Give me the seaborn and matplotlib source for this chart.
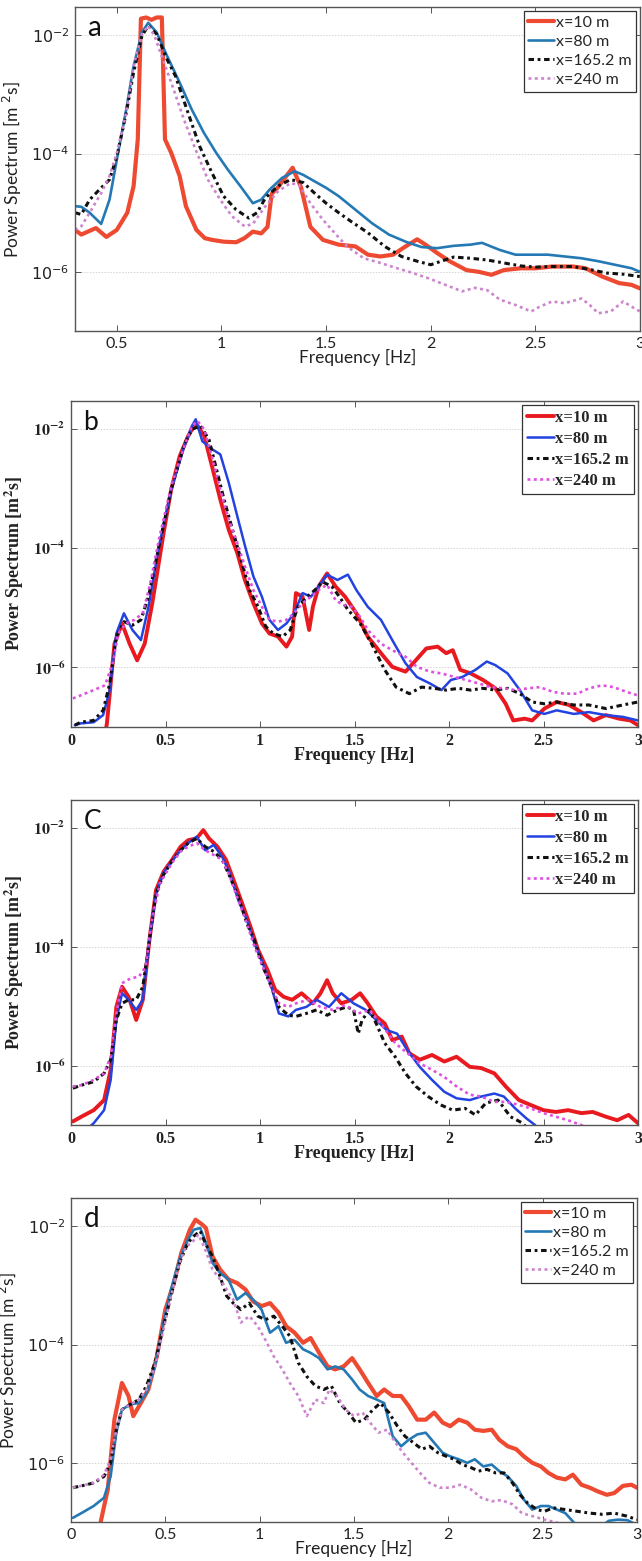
import numpy as np
import pandas as pd
import matplotlib
matplotlib.use("Agg")
import matplotlib.pyplot as plt
from matplotlib.ticker import FixedLocator, NullLocator
from matplotlib.font_manager import FontProperties
import seaborn as sns

STATIONS = ["x=10 m", "x=80 m", "x=165.2 m", "x=240 m"]

# ---------------------------------------------------------------------------
# Spectra: frequency [Hz] and log10 of power spectral density [m^2 s]
# ---------------------------------------------------------------------------
# panel a
a_f_10 = [0.30, 0.33, 0.40, 0.45, 0.50, 0.55, 0.58, 0.60, 0.615, 0.64, 0.665, 0.69, 0.715, 0.73,
          0.76, 0.80, 0.83, 0.88, 0.92, 0.955, 1.01, 1.07, 1.11, 1.15, 1.19, 1.22, 1.24, 1.27,
          1.31, 1.34, 1.38, 1.425, 1.485, 1.56, 1.64, 1.70, 1.76, 1.82, 1.88, 1.935, 1.975,
          2.03, 2.09, 2.17, 2.23, 2.29, 2.35, 2.43, 2.50, 2.58, 2.68, 2.74, 2.82, 2.90, 2.96, 3.00]
a_s_10 = [-5.29, -5.37, -5.26, -5.41, -5.29, -5.00, -4.55, -3.76, -1.72, -1.70, -1.74, -1.70, -1.70,
          -3.76, -3.99, -4.38, -4.89, -5.29, -5.43, -5.46, -5.49, -5.50, -5.43, -5.32, -5.35,
          -5.24, -4.68, -4.57, -4.38, -4.24, -4.57, -5.24, -5.46, -5.54, -5.57, -5.71, -5.74,
          -5.71, -5.57, -5.45, -5.54, -5.68, -5.82, -5.97, -6.00, -6.05, -5.97, -5.94, -5.94,
          -5.91, -5.91, -5.94, -6.08, -6.19, -6.22, -6.28]
a_f_80 = [0.30, 0.33, 0.37, 0.425, 0.465, 0.50, 0.545, 0.58, 0.62, 0.65, 0.69, 0.74, 0.80, 0.857,
          0.916, 0.975, 1.03, 1.09, 1.15, 1.19, 1.23, 1.29, 1.35, 1.39, 1.445, 1.50, 1.56, 1.64,
          1.72, 1.80, 1.88, 1.955, 2.03, 2.11, 2.19, 2.245, 2.33, 2.405, 2.48, 2.56, 2.64, 2.72,
          2.80, 2.88, 2.96, 3.00]
a_s_80 = [-4.89, -4.90, -5.00, -5.19, -4.78, -4.10, -3.25, -2.52, -1.95, -1.79, -1.95, -2.35, -2.80,
          -3.25, -3.65, -3.99, -4.27, -4.55, -4.84, -4.78, -4.61, -4.41, -4.30, -4.36, -4.47,
          -4.58, -4.72, -4.95, -5.18, -5.37, -5.49, -5.58, -5.60, -5.56, -5.54, -5.51, -5.63,
          -5.71, -5.71, -5.71, -5.74, -5.77, -5.82, -5.88, -5.94, -6.00]
a_f_165 = [0.30, 0.33, 0.37, 0.425, 0.465, 0.50, 0.545, 0.58, 0.62, 0.65, 0.69, 0.74, 0.78, 0.84,
           0.896, 0.955, 1.01, 1.07, 1.13, 1.17, 1.21, 1.27, 1.33, 1.39, 1.445, 1.50, 1.56, 1.62,
           1.70, 1.78, 1.86, 1.935, 2.00, 2.05, 2.11, 2.19, 2.27, 2.35, 2.43, 2.50, 2.58, 2.68,
           2.76, 2.84, 2.92, 3.00]
a_s_165 = [-5.00, -5.03, -4.78, -4.58, -4.44, -4.05, -3.31, -2.63, -2.01, -1.84, -1.98, -2.41, -2.69,
           -3.31, -3.88, -4.33, -4.72, -4.95, -5.09, -5.00, -4.75, -4.55, -4.44, -4.49, -4.67,
           -4.84, -5.00, -5.15, -5.34, -5.57, -5.74, -5.82, -5.88, -5.82, -5.75, -5.77, -5.80,
           -5.85, -5.90, -5.92, -5.91, -5.91, -5.96, -6.02, -6.04, -6.08]
a_f_240 = [0.30, 0.33, 0.37, 0.425, 0.465, 0.50, 0.545, 0.58, 0.62, 0.65, 0.68, 0.72, 0.76, 0.82,
           0.876, 0.935, 0.994, 1.05, 1.11, 1.15, 1.21, 1.27, 1.33, 1.37, 1.425, 1.485, 1.54,
           1.60, 1.68, 1.76, 1.84, 1.915, 1.99, 2.07, 2.15, 2.21, 2.27, 2.33, 2.405, 2.48, 2.52,
           2.58, 2.64, 2.72, 2.76, 2.80, 2.86, 2.92, 2.96, 3.00]
a_s_240 = [-5.29, -5.23, -5.00, -4.67, -4.38, -3.99, -3.31, -2.52, -1.98, -1.84, -2.01, -2.41, -2.80,
           -3.42, -3.93, -4.44, -4.78, -5.06, -5.23, -5.19, -4.89, -4.64, -4.50, -4.53, -4.84,
           -5.12, -5.34, -5.57, -5.77, -5.85, -5.94, -6.02, -6.11, -6.22, -6.33, -6.27, -6.31,
           -6.47, -6.56, -6.67, -6.59, -6.50, -6.53, -6.45, -6.56, -6.70, -6.67, -6.50, -6.59, -6.67]

# panel b
b_f_10 = [0.12, 0.17, 0.19, 0.21, 0.23, 0.27, 0.31, 0.35, 0.39, 0.43, 0.49, 0.53, 0.575, 0.62, 0.66,
          0.705, 0.75, 0.79, 0.835, 0.88, 0.92, 0.965, 1.01, 1.05, 1.095, 1.14, 1.17, 1.19, 1.225,
          1.26, 1.28, 1.31, 1.355, 1.40, 1.45, 1.51, 1.57, 1.64, 1.70, 1.77, 1.81, 1.88, 1.94,
          1.985, 2.02, 2.06, 2.115, 2.18, 2.245, 2.30, 2.34, 2.40, 2.44, 2.505, 2.57, 2.635, 2.70,
          2.765, 2.83, 2.90, 2.96, 3.00]
b_s_10 = [-7.60, -7.30, -6.94, -6.27, -5.60, -5.26, -5.60, -5.88, -5.60, -4.92, -3.74, -3.01, -2.45,
          -2.11, -1.89, -2.11, -2.67, -3.18, -3.69, -4.08, -4.53, -4.92, -5.26, -5.43, -5.48,
          -5.65, -5.48, -4.75, -4.81, -5.37, -4.98, -4.64, -4.42, -4.64, -4.81, -5.09, -5.48,
          -5.76, -5.99, -6.07, -5.93, -5.68, -5.65, -5.76, -5.71, -6.04, -6.10, -6.21, -6.35,
          -6.61, -6.89, -6.86, -6.89, -6.69, -6.58, -6.63, -6.75, -6.89, -6.80, -6.86, -6.89, -6.97]
b_f_80 = [0.02, 0.05, 0.12, 0.17, 0.205, 0.24, 0.28, 0.325, 0.37, 0.41, 0.465, 0.53, 0.60, 0.64,
          0.66, 0.695, 0.75, 0.79, 0.835, 0.88, 0.92, 0.965, 1.01, 1.05, 1.095, 1.14, 1.18, 1.225,
          1.27, 1.31, 1.355, 1.41, 1.465, 1.51, 1.57, 1.64, 1.70, 1.77, 1.83, 1.90, 1.96, 2.01,
          2.07, 2.14, 2.20, 2.245, 2.31, 2.375, 2.44, 2.505, 2.57, 2.66, 2.74, 2.83, 2.92, 3.00]
b_s_80 = [-6.97, -6.94, -6.92, -6.80, -6.38, -5.43, -5.09, -5.37, -5.54, -4.98, -3.97, -3.01, -2.28,
          -1.94, -1.83, -2.20, -2.34, -2.42, -2.90, -3.46, -3.95, -4.47, -4.81, -5.20, -5.37,
          -5.26, -5.09, -4.75, -4.81, -4.64, -4.44, -4.53, -4.44, -4.70, -4.98, -5.20, -5.54,
          -5.93, -6.16, -6.27, -6.38, -6.21, -6.16, -6.04, -5.90, -5.96, -6.10, -6.38, -6.72,
          -6.78, -6.72, -6.78, -6.75, -6.80, -6.83, -6.89]
b_f_165 = [0.02, 0.05, 0.12, 0.17, 0.205, 0.24, 0.28, 0.325, 0.37, 0.41, 0.465, 0.53, 0.60, 0.64,
           0.685, 0.73, 0.77, 0.81, 0.855, 0.90, 0.945, 0.99, 1.03, 1.07, 1.12, 1.16, 1.20, 1.25,
           1.29, 1.33, 1.38, 1.42, 1.465, 1.53, 1.59, 1.66, 1.72, 1.79, 1.855, 1.92, 1.985, 2.05,
           2.115, 2.18, 2.245, 2.31, 2.375, 2.44, 2.505, 2.57, 2.66, 2.74, 2.83, 2.92, 3.00]
b_s_165 = [-6.97, -6.92, -6.89, -6.72, -6.27, -5.48, -5.23, -5.29, -5.20, -4.81, -3.97, -3.01, -2.25,
           -2.00, -1.94, -2.17, -2.67, -3.18, -3.69, -4.19, -4.70, -4.98, -5.31, -5.43, -5.48,
           -5.37, -4.98, -4.81, -4.70, -4.56, -4.64, -4.81, -5.03, -5.26, -5.60, -6.04, -6.33,
           -6.44, -6.33, -6.35, -6.38, -6.35, -6.38, -6.35, -6.38, -6.35, -6.44, -6.58, -6.61,
           -6.58, -6.63, -6.63, -6.69, -6.63, -6.58]
b_f_240 = [0.01, 0.05, 0.12, 0.18, 0.22, 0.25, 0.29, 0.335, 0.38, 0.42, 0.465, 0.53, 0.60, 0.64,
           0.67, 0.705, 0.75, 0.79, 0.835, 0.88, 0.92, 0.965, 1.01, 1.05, 1.095, 1.14, 1.18,
           1.225, 1.27, 1.31, 1.355, 1.40, 1.44, 1.485, 1.53, 1.57, 1.64, 1.70, 1.77, 1.83, 1.90,
           1.96, 2.03, 2.09, 2.16, 2.22, 2.29, 2.35, 2.42, 2.48, 2.55, 2.61, 2.68, 2.74, 2.81,
           2.87, 2.94, 3.00]
b_s_240 = [-6.52, -6.47, -6.38, -6.30, -5.93, -5.43, -5.26, -5.20, -5.09, -4.58, -3.85, -2.96, -2.28,
           -1.94, -1.86, -2.00, -2.51, -3.01, -3.52, -3.91, -4.30, -4.70, -4.98, -5.20, -5.23,
           -5.20, -5.09, -4.92, -4.81, -4.70, -4.61, -4.87, -4.95, -4.98, -5.15, -5.37, -5.60,
           -5.71, -5.82, -5.99, -6.07, -6.10, -6.16, -6.21, -6.27, -6.33, -6.35, -6.38, -6.35,
           -6.33, -6.41, -6.44, -6.44, -6.35, -6.30, -6.33, -6.41, -6.47]

# panel c
c_f_10 = [0.01, 0.055, 0.12, 0.175, 0.21, 0.24, 0.27, 0.305, 0.345, 0.38, 0.415, 0.45, 0.49, 0.535,
          0.58, 0.62, 0.665, 0.70, 0.73, 0.775, 0.82, 0.86, 0.905, 0.95, 0.99, 1.04, 1.08, 1.125,
          1.17, 1.22, 1.28, 1.32, 1.355, 1.385, 1.43, 1.485, 1.53, 1.57, 1.615, 1.66, 1.70, 1.75,
          1.79, 1.845, 1.91, 1.975, 2.04, 2.11, 2.17, 2.24, 2.30, 2.37, 2.43, 2.50, 2.565, 2.63,
          2.70, 2.76, 2.83, 2.89, 2.95, 3.00]
c_s_10 = [-6.94, -6.86, -6.75, -6.58, -6.07, -5.01, -4.67, -4.84, -5.23, -4.89, -3.88, -3.04, -2.73,
          -2.53, -2.31, -2.20, -2.17, -2.03, -2.17, -2.31, -2.53, -2.87, -3.26, -3.66, -4.05,
          -4.39, -4.72, -4.84, -4.89, -4.78, -4.95, -4.78, -4.56, -4.78, -4.95, -4.89, -4.78,
          -4.95, -5.17, -5.29, -5.57, -5.51, -5.79, -5.90, -5.82, -5.93, -5.85, -6.02, -6.04,
          -6.13, -6.35, -6.58, -6.66, -6.75, -6.78, -6.75, -6.80, -6.78, -6.86, -6.92, -6.83, -6.97]
c_f_80 = [0.055, 0.12, 0.175, 0.21, 0.24, 0.27, 0.305, 0.345, 0.38, 0.415, 0.45, 0.49, 0.535, 0.58,
          0.62, 0.665, 0.71, 0.755, 0.80, 0.84, 0.885, 0.93, 0.97, 1.015, 1.06, 1.10, 1.15, 1.19,
          1.245, 1.30, 1.365, 1.43, 1.495, 1.56, 1.615, 1.67, 1.725, 1.78, 1.845, 1.91, 1.975,
          2.04, 2.11, 2.17, 2.24, 2.29, 2.35, 2.41, 2.455, 2.52, 2.60]
c_s_80 = [-7.15, -6.97, -6.75, -6.24, -5.23, -4.78, -4.89, -5.06, -4.89, -3.88, -3.10, -2.75, -2.55,
          -2.37, -2.25, -2.14, -2.37, -2.28, -2.48, -2.76, -3.21, -3.54, -3.94, -4.28, -4.67,
          -5.12, -5.17, -5.06, -5.01, -4.89, -5.01, -4.78, -4.95, -5.06, -5.23, -5.40, -5.46,
          -5.74, -6.02, -6.24, -6.44, -6.55, -6.58, -6.52, -6.47, -6.52, -6.72, -6.89, -7.00,
          -7.25, -7.50]
c_f_165 = [0.01, 0.055, 0.12, 0.175, 0.21, 0.24, 0.27, 0.305, 0.345, 0.38, 0.415, 0.45, 0.49, 0.535,
           0.58, 0.62, 0.665, 0.71, 0.755, 0.80, 0.84, 0.885, 0.93, 0.97, 1.015, 1.06, 1.10, 1.15,
           1.19, 1.245, 1.30, 1.355, 1.41, 1.46, 1.495, 1.52, 1.54, 1.58, 1.615, 1.66, 1.715,
           1.77, 1.825, 1.89, 1.955, 2.02, 2.085, 2.14, 2.195, 2.26, 2.325, 2.39, 2.45, 2.60]
c_s_165 = [-6.38, -6.33, -6.27, -6.13, -5.90, -5.23, -4.95, -4.89, -4.89, -4.67, -3.88, -3.10, -2.78,
           -2.55, -2.37, -2.25, -2.17, -2.31, -2.39, -2.53, -2.81, -3.15, -3.60, -3.88, -4.33,
           -4.67, -5.01, -5.15, -5.17, -5.12, -5.06, -5.15, -5.06, -5.01, -5.06, -5.46, -5.23,
           -5.06, -5.29, -5.62, -5.85, -6.13, -6.35, -6.52, -6.66, -6.75, -6.72, -6.83, -6.63,
           -6.58, -6.86, -6.97, -7.20, -7.50]
c_f_240 = [0.01, 0.055, 0.12, 0.175, 0.21, 0.24, 0.27, 0.315, 0.36, 0.395, 0.425, 0.47, 0.535, 0.58,
           0.62, 0.665, 0.71, 0.755, 0.80, 0.84, 0.885, 0.93, 0.97, 1.015, 1.06, 1.10, 1.15, 1.19,
           1.255, 1.32, 1.385, 1.45, 1.52, 1.58, 1.65, 1.715, 1.78, 1.845, 1.91, 1.975, 2.04, 2.11,
           2.17, 2.24, 2.30, 2.37, 2.43, 2.50, 2.565, 2.63, 2.70, 2.80]
c_s_240 = [-6.35, -6.33, -6.24, -6.13, -5.85, -5.12, -4.61, -4.53, -4.50, -4.33, -3.60, -2.93, -2.58,
           -2.39, -2.31, -2.25, -2.37, -2.45, -2.53, -2.81, -3.21, -3.60, -3.99, -4.33, -4.67,
           -4.95, -5.01, -4.95, -4.89, -5.01, -5.06, -4.98, -5.12, -5.06, -5.34, -5.62, -5.79,
           -5.96, -6.07, -6.19, -6.35, -6.49, -6.52, -6.61, -6.61, -6.66, -6.72, -6.80, -6.86,
           -6.92, -7.00, -7.20]

# panel d
d_f_10 = [0.12, 0.16, 0.195, 0.23, 0.27, 0.305, 0.33, 0.37, 0.41, 0.455, 0.50, 0.545, 0.585, 0.63,
          0.66, 0.695, 0.715, 0.75, 0.79, 0.835, 0.88, 0.925, 0.965, 1.01, 1.055, 1.10, 1.14,
          1.185, 1.23, 1.27, 1.315, 1.36, 1.40, 1.445, 1.49, 1.53, 1.575, 1.62, 1.66, 1.705,
          1.75, 1.79, 1.835, 1.88, 1.925, 1.97, 2.01, 2.055, 2.10, 2.14, 2.185, 2.23, 2.27,
          2.315, 2.36, 2.40, 2.445, 2.49, 2.53, 2.575, 2.62, 2.66, 2.705, 2.75, 2.79, 2.84, 2.88,
          2.925, 2.97, 3.00]
d_s_10 = [-7.60, -6.96, -6.45, -5.27, -4.65, -4.87, -5.21, -4.99, -4.76, -4.20, -3.41, -2.96, -2.45,
          -2.06, -1.89, -1.97, -2.03, -2.51, -2.73, -2.90, -2.96, -3.07, -3.27, -3.35, -3.30,
          -3.46, -3.69, -3.80, -3.97, -3.89, -4.14, -4.37, -4.42, -4.37, -4.23, -4.42, -4.65,
          -4.87, -4.76, -4.87, -4.87, -5.04, -5.27, -5.27, -5.15, -5.32, -5.38, -5.27, -5.32,
          -5.44, -5.46, -5.44, -5.61, -5.72, -5.77, -5.89, -6.00, -6.06, -6.17, -6.25, -6.28,
          -6.20, -6.37, -6.42, -6.48, -6.54, -6.51, -6.39, -6.37, -6.42]
d_f_80 = [0.01, 0.055, 0.12, 0.175, 0.21, 0.24, 0.27, 0.315, 0.36, 0.40, 0.445, 0.49, 0.53, 0.575,
          0.62, 0.65, 0.685, 0.715, 0.75, 0.79, 0.835, 0.88, 0.925, 0.965, 1.01, 1.055, 1.10,
          1.14, 1.185, 1.23, 1.27, 1.315, 1.36, 1.40, 1.445, 1.49, 1.53, 1.575, 1.62, 1.66, 1.705,
          1.75, 1.79, 1.835, 1.88, 1.925, 1.97, 2.01, 2.055, 2.10, 2.14, 2.185, 2.23, 2.27,
          2.315, 2.36, 2.40, 2.445, 2.49, 2.53, 2.575, 2.62, 2.66, 2.705, 2.75, 2.80, 2.85, 2.90,
          2.95, 3.00]
d_s_80 = [-6.93, -6.85, -6.73, -6.59, -6.23, -5.49, -5.10, -5.01, -4.99, -4.82, -4.37, -3.63, -3.07,
          -2.56, -2.23, -2.06, -2.03, -2.28, -2.62, -2.79, -2.90, -3.24, -3.13, -3.24, -3.41,
          -3.80, -3.69, -3.97, -3.92, -4.08, -4.14, -4.23, -4.42, -4.37, -4.42, -4.59, -4.76,
          -4.87, -4.93, -4.99, -5.55, -5.72, -5.61, -5.52, -5.49, -5.66, -5.83, -5.89, -5.94,
          -6.00, -5.94, -6.06, -6.03, -6.14, -6.23, -6.39, -6.62, -6.79, -6.73, -6.73, -6.79,
          -6.85, -6.99, -7.15, -7.20, -7.10, -6.98, -6.96, -6.97, -7.05]
d_f_165 = [0.01, 0.055, 0.12, 0.175, 0.21, 0.24, 0.27, 0.315, 0.36, 0.40, 0.445, 0.49, 0.53, 0.575,
           0.62, 0.65, 0.685, 0.715, 0.75, 0.79, 0.825, 0.86, 0.90, 0.945, 0.99, 1.03, 1.075,
           1.12, 1.16, 1.205, 1.25, 1.295, 1.34, 1.38, 1.425, 1.47, 1.51, 1.555, 1.60, 1.64,
           1.685, 1.73, 1.77, 1.815, 1.86, 1.90, 1.945, 1.99, 2.03, 2.075, 2.12, 2.16, 2.205,
           2.25, 2.295, 2.34, 2.38, 2.42, 2.47, 2.51, 2.555, 2.62, 2.685, 2.75, 2.815, 2.88,
           2.945, 3.00]
d_s_165 = [-6.42, -6.39, -6.34, -6.23, -6.00, -5.44, -5.10, -5.01, -4.93, -4.70, -4.31, -3.69, -3.18,
           -2.62, -2.28, -2.17, -2.08, -2.31, -2.51, -2.85, -3.18, -3.30, -3.41, -3.30, -3.52,
           -3.58, -3.52, -3.69, -3.86, -4.31, -4.54, -4.70, -4.76, -4.70, -4.99, -5.15, -5.32,
           -5.27, -5.10, -4.99, -5.15, -5.38, -5.55, -5.66, -5.77, -5.72, -5.83, -5.89, -5.94,
           -6.03, -6.08, -6.14, -6.11, -6.17, -6.17, -6.34, -6.54, -6.68, -6.79, -6.82, -6.76,
           -6.79, -6.82, -6.85, -6.87, -6.85, -6.90, -6.96]
d_f_240 = [0.01, 0.12, 0.175, 0.21, 0.24, 0.27, 0.315, 0.36, 0.40, 0.445, 0.49, 0.53, 0.575, 0.61,
           0.64, 0.675, 0.705, 0.75, 0.79, 0.825, 0.86, 0.90, 0.945, 0.99, 1.03, 1.075, 1.12,
           1.16, 1.205, 1.25, 1.295, 1.34, 1.37, 1.41, 1.455, 1.50, 1.545, 1.585, 1.63, 1.675,
           1.72, 1.76, 1.805, 1.85, 1.90, 1.955, 2.01, 2.065, 2.12, 2.175, 2.23, 2.28, 2.34,
           2.39, 2.445, 2.51, 2.575, 2.70, 2.85]
d_s_240 = [-6.42, -6.34, -6.20, -5.94, -5.44, -5.10, -5.01, -4.93, -4.76, -4.37, -3.75, -3.18, -2.62,
           -2.34, -2.28, -2.14, -2.34, -2.73, -2.90, -3.07, -3.24, -3.63, -3.52, -3.69, -3.92,
           -4.20, -4.42, -4.65, -4.87, -5.21, -4.93, -4.99, -4.76, -4.87, -5.10, -5.21, -5.15,
           -5.32, -5.49, -5.44, -5.66, -5.83, -6.00, -6.17, -6.34, -6.42, -6.42, -6.37, -6.45,
           -6.59, -6.65, -6.63, -6.70, -6.85, -6.90, -6.96, -7.01, -7.20, -7.40]

PANELS = [
    dict(tag="a", style="sans", xlim=(0.3, 3.0),
         xticks=[0.5, 1, 1.5, 2, 2.5, 3], xticklabels=["0.5", "1", "1.5", "2", "2.5", "3"],
         series=[(a_f_10, a_s_10), (a_f_80, a_s_80), (a_f_165, a_s_165), (a_f_240, a_s_240)],
         rect=[75, 7, 640, 331]),
    dict(tag="b", style="serif", xlim=(0.0, 3.0),
         xticks=[0, 0.5, 1, 1.5, 2, 2.5, 3], xticklabels=["0", "0.5", "1", "1.5", "2", "2.5", "3"],
         series=[(b_f_10, b_s_10), (b_f_80, b_s_80), (b_f_165, b_s_165), (b_f_240, b_s_240)],
         rect=[71, 401, 638, 727]),
    dict(tag="C", style="serif", xlim=(0.0, 3.0),
         xticks=[0, 0.5, 1, 1.5, 2, 2.5, 3], xticklabels=["0", "0.5", "1", "1.5", "2", "2.5", "3"],
         series=[(c_f_10, c_s_10), (c_f_80, c_s_80), (c_f_165, c_s_165), (c_f_240, c_s_240)],
         rect=[71, 800, 638, 1125]),
    dict(tag="d", style="sans", xlim=(0.0, 3.0),
         xticks=[0, 0.5, 1, 1.5, 2, 2.5, 3], xticklabels=["0", "0.5", "1", "1.5", "2", "2.5", "3"],
         series=[(d_f_10, d_s_10), (d_f_80, d_s_80), (d_f_165, d_s_165), (d_f_240, d_s_240)],
         rect=[71, 1198, 637, 1522]),
]

YTICKS = [1e-6, 1e-4, 1e-2]
YLIM = (1e-7, 3.0e-2)

STYLES = {
    "sans": dict(
        colors=["#ee4a31", "#2479b5", "#111111", "#cc84cc"],
        widths=[3.0, 1.9, 2.2, 1.9],
        family="Lato", weight="normal", math="dejavusans",
        tick_size=11.5, label_size=12.5, legend_size=11.5, tag_size=20,
        yticklabels=[r"$10^{-6}$", r"$10^{-4}$", r"$10^{-2}$"],
        ylabel=r"Power Spectrum [m $^{2}$s]"),
    "serif": dict(
        colors=["#e8191f", "#2343e0", "#111111", "#e050e0"],
        widths=[2.8, 1.8, 2.2, 1.9],
        family="Liberation Serif", weight="bold", math="stix",
        tick_size=11.5, label_size=13, legend_size=12, tag_size=19,
        yticklabels=[r"$\mathbf{10^{-6}}$", r"$\mathbf{10^{-4}}$", r"$\mathbf{10^{-2}}$"],
        ylabel=r"Power Spectrum [m$^{\mathbf{2}}$s]"),
}
DASHES = ["", "", (1.8, 1.2, 0.9, 1.2), (1.1, 1.3)]

sns.set_style("ticks")
plt.rcParams["font.family"] = ["Lato", "DejaVu Sans"]

W, H = 642, 1561
fig = plt.figure(figsize=(W / 100, H / 100), dpi=100)

for p in PANELS:
    st = STYLES[p["style"]]
    x0, y0, x1, y1 = p["rect"]
    ax = fig.add_axes([x0 / W, 1 - y1 / H, (x1 - x0) / W, (y1 - y0) / H])

    frames = []
    for name, (f, s) in zip(STATIONS, p["series"]):
        frames.append(pd.DataFrame({"freq": f, "psd": 10.0 ** np.asarray(s), "station": name}))
    df = pd.concat(frames, ignore_index=True)

    sns.lineplot(data=df, x="freq", y="psd", hue="station", style="station", size="station",
                 hue_order=STATIONS, style_order=STATIONS, size_order=STATIONS,
                 palette=dict(zip(STATIONS, st["colors"])),
                 dashes=dict(zip(STATIONS, DASHES)),
                 sizes=dict(zip(STATIONS, st["widths"])),
                 estimator=None, sort=False, ax=ax)

    ax.set_yscale("log")
    ax.set_xlim(*p["xlim"])
    ax.set_ylim(*YLIM)

    ax.xaxis.set_major_locator(FixedLocator(p["xticks"]))
    ax.set_xticklabels(p["xticklabels"])
    ax.xaxis.set_minor_locator(NullLocator())
    ax.yaxis.set_major_locator(FixedLocator(YTICKS))
    ax.set_yticklabels(st["yticklabels"])
    ax.yaxis.set_minor_locator(NullLocator())

    ax.tick_params(which="both", direction="in", top=True, right=True, length=4, width=0.7,
                   color="#555555", labelcolor="#222222", labelsize=st["tick_size"], pad=4)
    for t in ax.get_xticklabels() + ax.get_yticklabels():
        t.set_fontfamily([st["family"], "DejaVu Sans"])
        t.set_fontweight(st["weight"])
        t.set_math_fontfamily(st["math"])

    for sp in ax.spines.values():
        sp.set_color("#555555")
        sp.set_linewidth(1.0)

    ax.grid(axis="y", which="major", color="#d4d4d4", lw=0.7, ls=(0, (1.5, 1.5)))
    ax.set_axisbelow(True)

    ax.set_xlabel("Frequency [Hz]", fontsize=st["label_size"], fontweight=st["weight"],
                  family=[st["family"], "DejaVu Sans"], color="#222222", labelpad=-1)
    yl = ax.set_ylabel(st["ylabel"], fontsize=st["label_size"], fontweight=st["weight"],
                       family=[st["family"], "DejaVu Sans"], color="#222222", labelpad=5)
    yl.set_math_fontfamily(st["math"])

    ax.text(0.022, 0.912, p["tag"], transform=ax.transAxes, fontsize=st["tag_size"],
            family=["Lato", "DejaVu Sans"], color="#111111", va="baseline", ha="left")

    handles, labels = ax.get_legend_handles_labels()
    leg = ax.legend(handles, labels, loc="upper right", borderaxespad=0.25, borderpad=0.3,
                    handlelength=1.6, handletextpad=0.1, labelspacing=0.3, frameon=True,
                    fancybox=False, framealpha=1.0, edgecolor="#333333",
                    prop=FontProperties(family=[st["family"], "DejaVu Sans"],
                                        weight=st["weight"], size=st["legend_size"]))
    leg.get_frame().set_linewidth(0.9)

fig.savefig("out.png", dpi=100)
